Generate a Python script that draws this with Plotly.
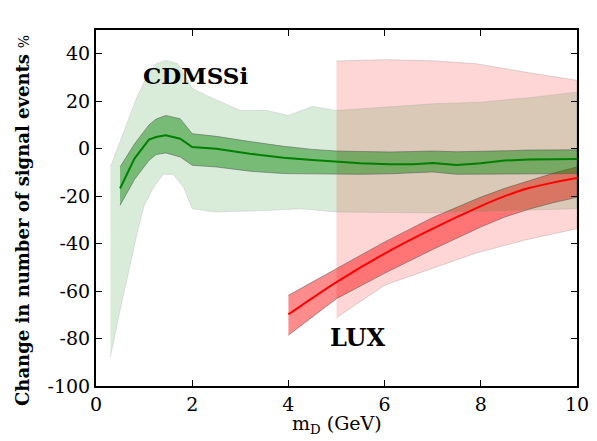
import plotly.graph_objects as go

# ---------------- data ----------------
# CDMSSi central curve and 1-sigma (dark) band
cdms_x = [0.5, 0.8, 1.1, 1.25, 1.45, 1.75, 2.0, 2.5, 3.2, 3.9, 4.5, 5.0, 5.5, 6.1, 6.6, 7.0, 7.5, 8.0, 8.5, 9.0, 10.0]
cdms_mid = [-16.8, -4.2, 3.8, 4.9, 5.6, 4.2, 0.7, 0.0, -2.1, -3.8, -4.8, -5.6, -6.1, -6.6, -6.6, -6.0, -6.9, -6.1, -5.0, -4.6, -4.4]
cdms_hi = [-7.7, 2.0, 10.0, 12.5, 14.0, 12.6, 6.3, 5.2, 3.0, 1.0, -0.3, -1.0, -1.2, -1.4, -1.2, -1.0, -1.3, -1.2, -0.9, -0.6, -0.5]
cdms_lo = [-23.9, -13.0, -5.0, -2.5, -1.8, -3.5, -7.0, -7.7, -9.5, -10.5, -10.7, -10.8, -10.8, -10.6, -10.2, -9.8, -10.8, -10.8, -10.7, -10.6, -10.5]

# CDMSSi outer (light) band
cdms_out_hi_x = [0.3, 0.5, 0.85, 1.05, 1.25, 1.45, 1.7, 2.0, 2.3, 3.0, 3.55, 4.0, 4.5, 5.0, 6.0, 7.0, 8.0, 9.0, 10.0]
cdms_out_hi = [-7.7, 3.0, 21.7, 30.0, 35.8, 37.2, 35.8, 25.3, 22.4, 16.1, 16.1, 14.0, 17.8, 16.1, 17.4, 18.9, 19.6, 21.5, 23.8]
cdms_out_lo_x = [0.3, 0.5, 0.7, 0.85, 1.0, 1.2, 1.4, 1.6, 1.82, 2.0, 2.5, 3.6, 4.25, 5.0, 7.0, 10.0]
cdms_out_lo = [-87.7, -68.0, -50.0, -36.0, -24.0, -16.2, -10.8, -10.8, -16.2, -25.3, -26.7, -26.0, -25.3, -26.7, -27.1, -25.3]

# LUX central curve and dark band
lux_x = [4.0, 5.0, 6.0, 7.0, 8.0, 8.5, 9.0, 9.5, 10.0]
lux_mid = [-69.8, -56.2, -44.2, -33.7, -24.2, -20.0, -16.6, -14.3, -12.4]
lux_hi = [-61.8, -50.5, -39.3, -29.0, -20.4, -16.7, -13.4, -10.4, -7.7]
lux_lo = [-78.6, -63.2, -52.5, -42.5, -33.0, -28.8, -25.5, -22.8, -20.5]

# LUX outer (light) band
lux_out_x = [5.0, 6.0, 7.0, 7.9, 8.9, 10.0]
lux_out_hi = [36.9, 37.5, 37.0, 35.8, 32.3, 28.8]
lux_out_lo = [-71.2, -57.5, -50.5, -44.0, -38.6, -33.7]

x_ticks = [0, 2, 4, 6, 8, 10]
y_ticks = [-100, -80, -60, -40, -20, 0, 20, 40]

FONT = "DejaVu Serif"


def band(xu, yu, xl, yl, fill, edge, width):
    return go.Scatter(
        x=list(xu) + list(xl)[::-1],
        y=list(yu) + list(yl)[::-1],
        fill="toself", fillcolor=fill, mode="lines",
        line=dict(color=edge, width=width), hoverinfo="skip", showlegend=False,
    )


fig = go.Figure()
# LUX light band
fig.add_trace(band(lux_out_x, lux_out_hi, lux_out_x, lux_out_lo,
                   "rgba(255,0,0,0.16)", "rgba(150,150,150,0.35)", 1))
# LUX dark band
fig.add_trace(band(lux_x, lux_hi, lux_x, lux_lo,
                   "rgba(255,0,0,0.45)", "rgba(90,90,90,0.55)", 1))
# CDMSSi light band
fig.add_trace(band(cdms_out_hi_x, cdms_out_hi, cdms_out_lo_x, cdms_out_lo,
                   "rgba(0,128,0,0.15)", "rgba(150,150,150,0.25)", 1))
# CDMSSi dark band
fig.add_trace(band(cdms_x, cdms_hi, cdms_x, cdms_lo,
                   "rgba(0,128,0,0.45)", "rgba(90,90,90,0.55)", 1))
# central lines
fig.add_trace(go.Scatter(x=cdms_x, y=cdms_mid, mode="lines",
                         line=dict(color="#008000", width=2), showlegend=False))
fig.add_trace(go.Scatter(x=lux_x, y=lux_mid, mode="lines",
                         line=dict(color="#ff0000", width=2, shape="spline", smoothing=0.8),
                         showlegend=False))

fig.add_annotation(x=2.06, y=30.9, text="<b>CDMSSi</b>", showarrow=False,
                   font=dict(family=FONT, size=23, color="black"))
fig.add_annotation(x=5.44, y=-79.5, text="<b>LUX</b>", showarrow=False,
                   font=dict(family=FONT, size=24, color="black"))

# axis titles placed as text so they sit where the reference has them
fig.add_annotation(xref="paper", yref="paper", x=-0.154, y=0.466,
                   text="<b>Change in number of signal events</b> <span style='font-size:14px'>%</span>",
                   textangle=-90, showarrow=False, xanchor="center", yanchor="middle",
                   font=dict(family=FONT, size=18, color="black"))
fig.add_annotation(xref="paper", yref="paper", x=0.5, y=-0.108,
                   text="m<sub>D</sub> (GeV)", showarrow=False,
                   xanchor="center", yanchor="middle",
                   font=dict(family=FONT, size=19, color="black"))

axis_common = dict(showgrid=False, zeroline=False, showline=True, linecolor="black",
                   linewidth=2, mirror="ticks", ticks="inside", ticklen=6,
                   tickwidth=1, tickcolor="black", automargin=False,
                   tickfont=dict(family=FONT, size=19, color="black"))

fig.update_xaxes(range=[0, 10], tickvals=x_ticks, ticktext=[str(v) for v in x_ticks],
                 **axis_common)
fig.update_yaxes(range=[-100, 50], tickvals=y_ticks, ticktext=[str(v) for v in y_ticks],
                 **axis_common)

fig.update_layout(width=597, height=441, margin=dict(l=96, r=20, t=30, b=55),
                  paper_bgcolor="white", plot_bgcolor="white")

fig.write_html("out.html")
